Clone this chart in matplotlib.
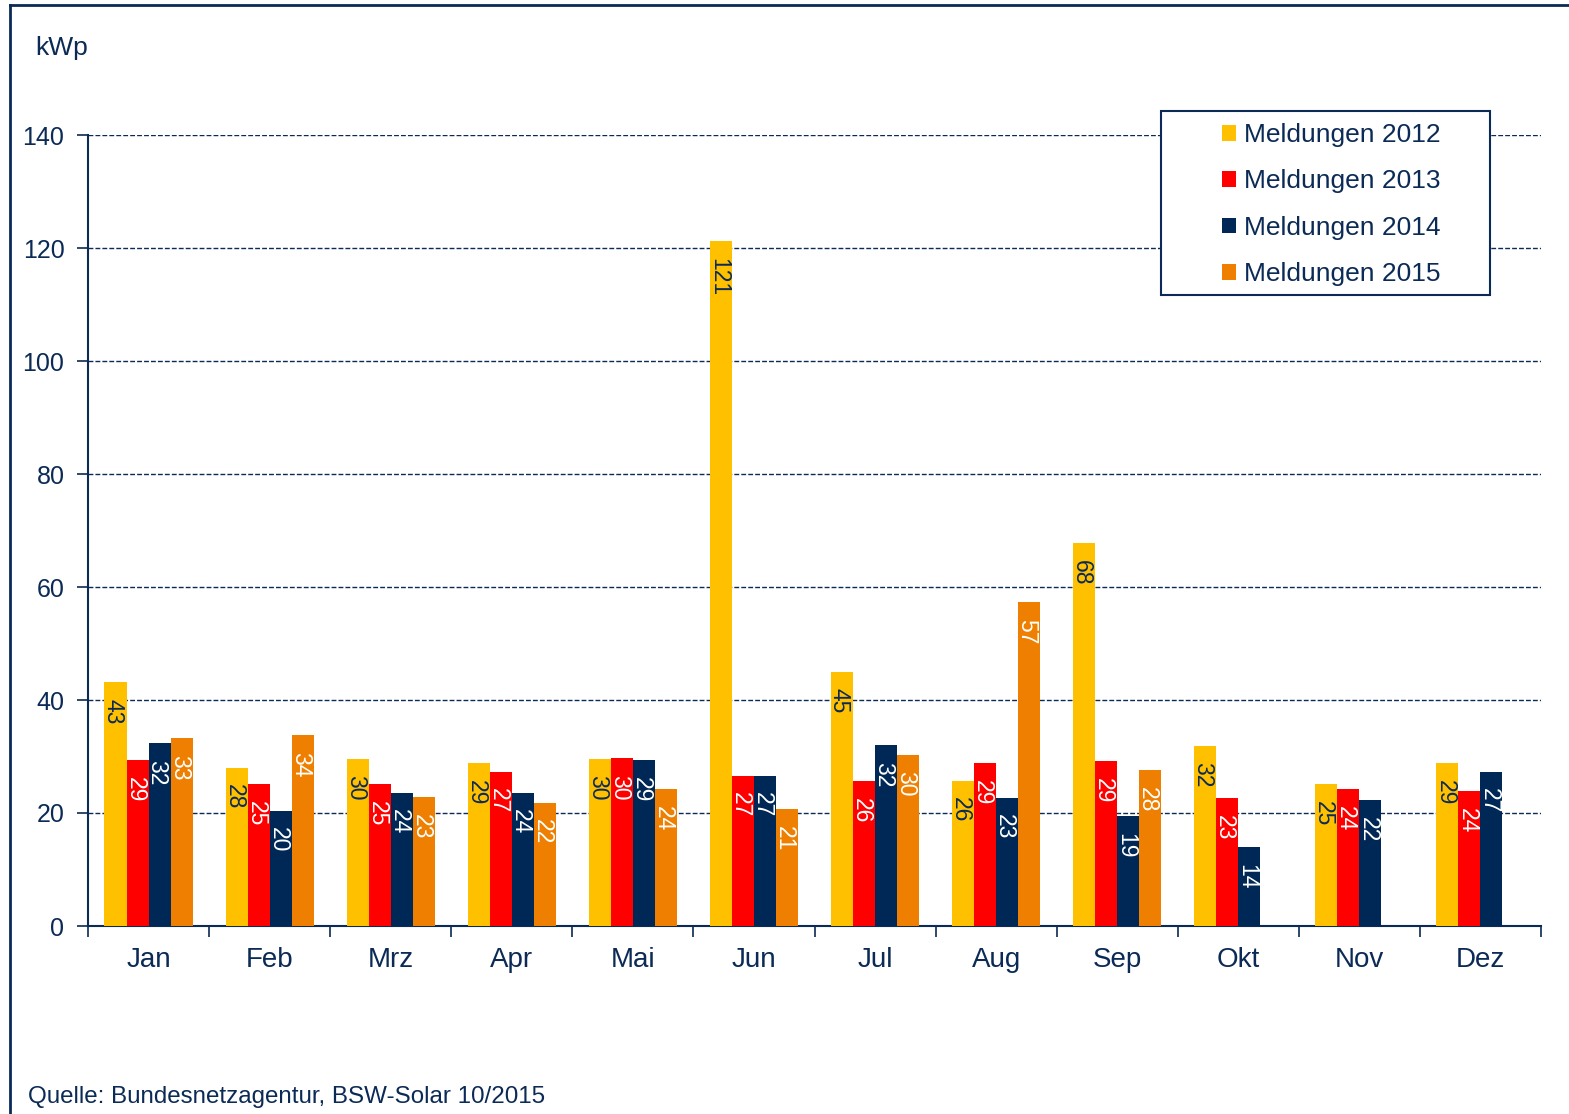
import numpy as np
import matplotlib.pyplot as plt
from matplotlib.lines import Line2D
from matplotlib.patches import Rectangle

plt.rcParams["font.family"] = ["Liberation Sans", "DejaVu Sans"]

MONTHS = ["Jan", "Feb", "Mrz", "Apr", "Mai", "Jun", "Jul", "Aug", "Sep", "Okt", "Nov", "Dez"]
SERIES = ["Meldungen 2012", "Meldungen 2013", "Meldungen 2014", "Meldungen 2015"]
m2012 = [43.2, 28.0, 29.6, 28.8, 29.6, 121.2, 45.0, 25.7, 67.8, 31.9, 25.1, 28.8]
m2013 = [29.4, 25.1, 25.1, 27.3, 29.7, 26.6, 25.6, 28.8, 29.2, 22.6, 24.2, 23.9]
m2014 = [32.4, 20.4, 23.6, 23.6, 29.4, 26.6, 32.0, 22.7, 19.4, 14.0, 22.3, 27.3]
m2015 = [33.3, 33.8, 22.8, 21.8, 24.2, 20.7, 30.3, 57.3, 27.6, np.nan, np.nan, np.nan]

NAVY = "#0B2A55"
COLORS = ["#FFC000", "#FF0000", "#002856", "#EE7F00"]
LABEL_COLORS = [NAVY, "white", "white", "white"]

fig = plt.figure(figsize=(15.69, 11.14), dpi=100)
ax = fig.add_axes([88 / 1569, 1 - 926 / 1114, (1541 - 88) / 1569, (926 - 135) / 1114])

x = np.arange(len(MONTHS))
width = 0.182
start = (1 - 4 * width) / 2
for i, (vals, name) in enumerate(zip([m2012, m2013, m2014, m2015], SERIES)):
    pos = x + start + width * (i + 0.5)
    ax.bar(pos, vals, width, color=COLORS[i], label=name, zorder=3)
    for p, v in zip(pos, vals):
        if np.isnan(v):
            continue
        ax.annotate(f"{round(v)}", (p, v), xytext=(0, -12), textcoords="offset points",
                    ha="left", va="center_baseline", rotation=270, rotation_mode="anchor",
                    fontsize=16.5, color=LABEL_COLORS[i], zorder=4)

ax.set_xlim(0, 12)
ax.set_ylim(0, 140)
ax.set_yticks(range(0, 141, 20))
for y in range(20, 141, 20):
    ax.axhline(y, color=NAVY, linestyle=(0, (3.5, 1.5)), linewidth=1.0, zorder=1)

ax.set_xticks(x + 0.5)
ax.set_xticklabels(MONTHS)
ax.set_xticks(np.arange(0, 13), minor=True)
ax.tick_params(axis="x", which="major", length=0, pad=15, labelsize=20, labelcolor=NAVY)
ax.tick_params(axis="x", which="minor", length=8, width=1.2, color=NAVY, direction="out")
ax.tick_params(axis="y", length=8, width=1.2, color=NAVY, labelsize=18, labelcolor=NAVY, pad=9)

for s in ["top", "right"]:
    ax.spines[s].set_visible(False)
for s in ["left", "bottom"]:
    ax.spines[s].set_color(NAVY)
    ax.spines[s].set_linewidth(1.5)

# legend box drawn separately so it can be wider than its content
x0, x1 = (1161 - 88) / 1453, (1490 - 88) / 1453
y0, y1 = (926 - 295) / 791, (926 - 111) / 791
ax.add_patch(Rectangle((x0, y0), x1 - x0, y1 - y0, transform=ax.transAxes,
                       facecolor="white", edgecolor=NAVY, linewidth=1.5,
                       clip_on=False, zorder=5))
leg = ax.legend(loc="center", bbox_to_anchor=((x0 + x1) / 2 + 0.004, (y0 + y1) / 2 - 0.002),
                fontsize=19, frameon=False, handlelength=0.55, handleheight=0.55,
                handletextpad=0.3, labelspacing=0.85, borderaxespad=0, labelcolor=NAVY)
leg.set_zorder(6)

fig.text(35 / 1569, 1 - 48 / 1114, "kWp", fontsize=19, color=NAVY, va="center", ha="left")
fig.text(28 / 1569, 1 - 1097 / 1114, "Quelle: Bundesnetzagentur, BSW-Solar 10/2015",
         fontsize=17.4, color=NAVY, va="center", ha="left")

fig.add_artist(Line2D([10 / 1569, 10 / 1569], [0, 1 - 5 / 1114], color=NAVY, linewidth=2,
                      transform=fig.transFigure))
fig.add_artist(Line2D([10 / 1569, 1], [1 - 5 / 1114, 1 - 5 / 1114], color=NAVY, linewidth=2,
                      transform=fig.transFigure))

fig.savefig("out.png", dpi=100)
